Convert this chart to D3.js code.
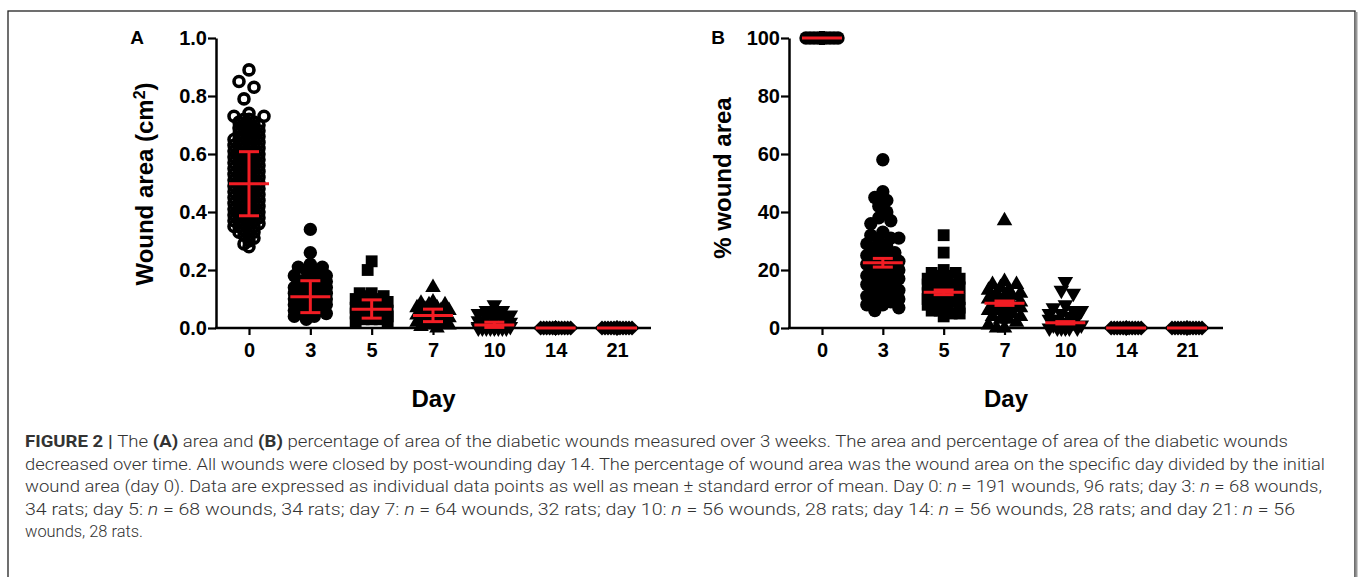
<!DOCTYPE html>
<html>
<head>
<meta charset="UTF-8">
<script src="https://d3js.org/d3.v7.min.js"></script>
<style>
  body { margin: 0; background: #fff; }
  svg text { font-family: "Liberation Sans", Arial, Helvetica, sans-serif; }
  .axis text { font-weight: bold; font-size: 20px; fill: #000; }
  .axis line, .axis path { stroke: #000; }
  .title { font-weight: bold; font-size: 24px; }
  .letter { font-weight: bold; font-size: 19px; }
  .caption { font-family: "Liberation Sans Narrow", "Roboto", "Liberation Sans", sans-serif; font-size: 17px; font-weight: 300; fill: #333; }
</style>
<title>Wound area</title>
</head>
<body>
<svg id="fig" width="1358" height="577"></svg>
<script>
// ---- data ----
const days = ["0", "3", "5", "7", "10", "14", "21"];
const areaTicks = [0.0, 0.2, 0.4, 0.6, 0.8, 1.0];
const pctTicks = [0, 20, 40, 60, 80, 100];
const areaKinds = ["open", "circle", "square", "triangle", "down", "diamond", "diamond"];
const pctKinds = ["circle", "circle", "square", "triangle", "down", "diamond", "diamond"];

// panel A, wound area (cm2)
const areaDay0 = [0.89, 0.85, 0.83, 0.79, 0.74, 0.73, 0.73, 0.72, 0.72, 0.71, 0.71, 0.70, 0.70, 0.70, 0.69,
  0.69, 0.68, 0.68, 0.68, 0.67, 0.67, 0.66, 0.66, 0.66, 0.65, 0.65, 0.65, 0.64, 0.64, 0.64, 0.63, 0.63, 0.63,
  0.62, 0.62, 0.62, 0.61, 0.61, 0.61, 0.60, 0.60, 0.60, 0.59, 0.59, 0.59, 0.58, 0.58, 0.58, 0.57, 0.57, 0.57,
  0.56, 0.56, 0.56, 0.55, 0.55, 0.55, 0.54, 0.54, 0.54, 0.53, 0.53, 0.53, 0.52, 0.52, 0.52, 0.51, 0.51, 0.51,
  0.50, 0.50, 0.50, 0.49, 0.49, 0.49, 0.48, 0.48, 0.48, 0.47, 0.47, 0.47, 0.46, 0.46, 0.46, 0.45, 0.45, 0.45,
  0.44, 0.44, 0.44, 0.43, 0.43, 0.43, 0.42, 0.42, 0.42, 0.41, 0.41, 0.41, 0.40, 0.40, 0.40, 0.39, 0.39, 0.39,
  0.38, 0.38, 0.38, 0.37, 0.37, 0.37, 0.36, 0.36, 0.36, 0.35, 0.35, 0.35, 0.34, 0.34, 0.33, 0.33, 0.32, 0.32,
  0.31, 0.30, 0.29, 0.28];
const areaDay3 = [0.34, 0.26, 0.22, 0.21, 0.21, 0.20, 0.19, 0.18, 0.18, 0.17, 0.17, 0.16, 0.16, 0.15, 0.15, 0.15,
  0.14, 0.14, 0.14, 0.13, 0.13, 0.13, 0.13, 0.12, 0.12, 0.12, 0.12, 0.11, 0.11, 0.11, 0.10, 0.10, 0.10, 0.10,
  0.09, 0.09, 0.09, 0.08, 0.08, 0.08, 0.07, 0.07, 0.07, 0.06, 0.06, 0.06, 0.05, 0.05, 0.04, 0.04, 0.03];
const areaDay5 = [0.23, 0.20, 0.12, 0.12, 0.11, 0.11, 0.10, 0.10, 0.10, 0.09, 0.09, 0.09, 0.08, 0.08, 0.08, 0.08,
  0.07, 0.07, 0.07, 0.07, 0.06, 0.06, 0.06, 0.06, 0.05, 0.05, 0.05, 0.05, 0.04, 0.04, 0.04, 0.04, 0.03, 0.03,
  0.03, 0.02, 0.02];
const areaDay7 = [0.14, 0.09, 0.085, 0.08, 0.08, 0.07, 0.07, 0.065, 0.06, 0.06, 0.06, 0.055, 0.05, 0.05, 0.05,
  0.045, 0.04, 0.04, 0.04, 0.035, 0.03, 0.03, 0.03, 0.025, 0.02, 0.02, 0.02, 0.015, 0.01, 0.01, 0.005, 0.0];
const areaDay10 = [0.08, 0.06, 0.06, 0.05, 0.05, 0.045, 0.04, 0.035, 0.03, 0.025, 0.02, 0.015, 0.01, 0.01,
  0.005, 0.005, 0, 0, 0, 0, 0, 0, 0, 0];
const areaDay14 = [0, 0, 0, 0, 0, 0, 0, 0, 0, 0, 0, 0, 0, 0, 0, 0];
const areaDay21 = [0, 0, 0, 0, 0, 0, 0, 0, 0, 0, 0, 0, 0, 0, 0, 0];
const areaMean = [0.497, 0.108, 0.065, 0.043, 0.010, 0, 0];
const areaLow  = [0.387, 0.053, 0.034, 0.022, 0.002, 0, 0];
const areaHigh = [0.608, 0.163, 0.097, 0.065, 0.020, 0, 0];

// panel B, % wound area
const pctDay0 = [100, 100, 100, 100, 100, 100, 100, 100, 100, 100, 100, 100, 100, 100, 100, 100, 100, 100,
  100, 100, 100, 100, 100, 100];
const pctDay3 = [58, 47, 45, 44, 42, 40, 38, 37, 36, 33, 32, 31, 31, 30, 29, 28, 27, 26, 25, 25, 24, 24, 23,
  23, 22, 22, 21, 21, 20, 20, 19, 18, 18, 17, 17, 16, 15, 15, 14, 13, 12, 12, 11, 11, 10, 10, 9, 8, 8, 7, 6];
const pctDay5 = [32, 26, 20, 19, 19, 18, 18, 17, 17, 16, 16, 15, 15, 14, 14, 13, 13, 12, 12, 12, 11, 11, 10,
  10, 9, 9, 8, 8, 7, 7, 6, 6, 5, 5, 4];
const pctDay7 = [37, 16, 15, 15, 14, 13, 13, 12, 12, 11, 11, 10, 10, 9, 9, 8, 8, 8, 7, 7, 6, 6, 5, 5, 4, 4, 3,
  3, 2, 1, 0, 0];
const pctDay10 = [16, 13, 12, 8, 7, 6, 6, 5, 5, 4, 4, 3, 3, 2, 2, 1, 1, 0, 0, 0, 0, 0, 0];
const pctDay14 = [0, 0, 0, 0, 0, 0, 0, 0, 0, 0, 0, 0, 0, 0, 0, 0];
const pctDay21 = [0, 0, 0, 0, 0, 0, 0, 0, 0, 0, 0, 0, 0, 0, 0, 0];
const pctMean = [100, 22.5, 12.3, 8.5, 1.8, 0, 0];
const pctLow  = [100, 21.0, 11.5, 7.8, 1.4, 0, 0];
const pctHigh = [100, 24.0, 13.1, 9.3, 2.2, 0, 0];

const captionLines = [
  [["FIGURE 2 | ", "b"], ["The ", ""], ["(A)", "b"], [" area and ", ""], ["(B)", "b"],
   [" percentage of area of the diabetic wounds measured over 3 weeks. The area and percentage of area of the diabetic wounds", ""]],
  [["decreased over time. All wounds were closed by post-wounding day 14. The percentage of wound area was the wound area on the specific day divided by the initial", ""]],
  [["wound area (day 0). Data are expressed as individual data points as well as mean \u00b1 standard error of mean. Day 0: ", ""],
   ["n", "i"], [" = 191 wounds, 96 rats; day 3: ", ""], ["n", "i"], [" = 68 wounds,", ""]],
  [["34 rats; day 5: ", ""], ["n", "i"], [" = 68 wounds, 34 rats; day 7: ", ""], ["n", "i"],
   [" = 64 wounds, 32 rats; day 10: ", ""], ["n", "i"], [" = 56 wounds, 28 rats; day 14: ", ""], ["n", "i"],
   [" = 56 wounds, 28 rats; and day 21: ", ""], ["n", "i"], [" = 56", ""]],
  [["wounds, 28 rats.", ""]]
];
const captionWidths = [1263, 1300, 1297, 1270, 118];

// ---- drawing ----
const svg = d3.select("#fig");

// frame around the figure
svg.append("rect").attr("x", 8).attr("y", 11).attr("width", 1347).attr("height", 620)
   .attr("fill", "none").attr("stroke", "#222").attr("stroke-width", 1.3);
svg.append("line").attr("x1", 1356.5).attr("x2", 1356.5).attr("y1", 12).attr("y2", 577)
   .attr("stroke", "#999").attr("stroke-width", 2);

// column scatter layout: spread points sideways so they do not pile up.
// first look for a spot with plenty of room (wide), then a tight one, else the least crowded.
function swarm(values, y, cx, sp) {
  const placed = [];
  const offsets = d3.range(sp.maxSteps * 2 + 1).map(k => (k % 2 ? -1 : 1) * Math.ceil(k / 2) * sp.step);
  values.slice().sort((a, b) => b - a).forEach(v => {
    const py = y(v);
    const room = offsets.map(off => d3.min(placed, p => Math.hypot(p.x - (cx + off), p.y - py)) ?? Infinity);
    let idx = room.findIndex(r => r >= (sp.wide || sp.minDist));
    if (idx < 0) idx = room.findIndex(r => r >= sp.minDist);
    if (idx < 0) idx = d3.maxIndex(room);
    placed.push({ v: v, x: cx + offsets[idx], y: py });
  });
  return placed;
}

const symbolFor = {
  open: { type: d3.symbolCircle, size: 78, rot: 0, spread: { step: 2.5, maxSteps: 6, minDist: 4.5, wide: 14 } },
  circle: { type: d3.symbolCircle, size: 140, rot: 0, spread: { step: 4, maxSteps: 4, minDist: 9 } },
  square: { type: d3.symbolSquare, size: 140, rot: 0, spread: { step: 4, maxSteps: 4, minDist: 9 } },
  triangle: { type: d3.symbolTriangle, size: 105, rot: 0, spread: { step: 4, maxSteps: 4, minDist: 9 } },
  down: { type: d3.symbolTriangle, size: 105, rot: 180, spread: { step: 4, maxSteps: 4, minDist: 9 } },
  diamond: { type: d3.symbolSquare, size: 115, rot: 45, spread: { step: 3, maxSteps: 5, minDist: 5 } }
};

function drawPanel(p) {
  const x = d3.scalePoint().domain(days).range(p.xRange);
  const y = d3.scaleLinear().domain(p.yDomain).range([328, 38]);
  const g = svg.append("g");

  // y axis
  const ya = g.append("g").attr("class", "axis")
     .attr("transform", "translate(" + p.axisX + ",0)")
     .call(d3.axisLeft(y).tickValues(p.ticks).tickFormat(p.fmt).tickSize(8).tickSizeOuter(0).tickPadding(1));
  ya.select(".domain").attr("stroke-width", 2.5);
  ya.selectAll(".tick line").attr("stroke-width", 2.2);

  // x axis (ticks only, the baseline is drawn separately)
  const xa = g.append("g").attr("class", "axis")
     .attr("transform", "translate(0,328)")
     .call(d3.axisBottom(x).tickSize(7).tickPadding(8));
  xa.select(".domain").remove();
  xa.selectAll(".tick line").attr("stroke-width", 2.2);
  g.append("line").attr("x1", p.axisX - 1).attr("x2", p.axisEnd).attr("y1", 328).attr("y2", 328)
   .attr("stroke", "#000").attr("stroke-width", 2.5);

  // points
  p.series.forEach((vals, i) => {
    const kind = p.kinds[i];
    const s = symbolFor[kind];
    const pts = swarm(vals, y, x(days[i]), s.spread);
    g.append("g").selectAll("path").data(pts).join("path")
      .attr("d", d3.symbol().type(s.type).size(s.size))
      .attr("transform", d => "translate(" + d.x + "," + d.y + ") rotate(" + s.rot + ")")
      .attr("fill", kind === "open" ? "none" : "#000")
      .attr("stroke", kind === "open" ? "#000" : "none")
      .attr("stroke-width", 3.6);
  });

  // mean and error bars
  const eb = g.append("g").attr("stroke", "#f21d24").attr("stroke-width", 3).attr("fill", "none");
  days.forEach((d, i) => {
    const cx = x(d);
    if (p.high[i] !== p.low[i]) {
      eb.append("line").attr("x1", cx).attr("x2", cx).attr("y1", y(p.low[i])).attr("y2", y(p.high[i]));
      [p.low[i], p.high[i]].forEach(v => {
        eb.append("line").attr("x1", cx - 10).attr("x2", cx + 10).attr("y1", y(v)).attr("y2", y(v));
      });
    }
    eb.append("line").attr("x1", cx - 20).attr("x2", cx + 20).attr("y1", y(p.mean[i])).attr("y2", y(p.mean[i]));
  });

  // titles
  g.append("text").attr("class", "title").attr("text-anchor", "middle")
   .attr("x", (p.axisX + p.axisEnd) / 2).attr("y", 407).text("Day");
  const yt = g.append("text").attr("class", "title").attr("text-anchor", "middle")
   .attr("font-size", p.titleSize + "px")
   .attr("transform", "translate(" + p.titleX + "," + p.titleY + ") rotate(-90)");
  p.yTitle(yt);
  g.append("text").attr("class", "letter").attr("text-anchor", "middle")
   .attr("x", p.letterX).attr("y", 44).text(p.letter);
}

drawPanel({
  letter: "A", letterX: 137,
  axisX: 216, axisEnd: 651, xRange: [249, 617],
  yDomain: [0, 1], ticks: areaTicks, fmt: d3.format(".1f"),
  series: [areaDay0, areaDay3, areaDay5, areaDay7, areaDay10, areaDay14, areaDay21],
  kinds: areaKinds,
  mean: areaMean, low: areaLow, high: areaHigh,
  titleX: 153, titleY: 184, titleSize: 24,
  yTitle: t => {
    t.append("tspan").text("Wound area (cm");
    t.append("tspan").attr("baseline-shift", "super").attr("font-size", "16px").text("2");
    t.append("tspan").text(")");
  }
});

drawPanel({
  letter: "B", letterX: 718,
  axisX: 789, axisEnd: 1223, xRange: [822, 1187],
  yDomain: [0, 100], ticks: pctTicks, fmt: d3.format("d"),
  series: [pctDay0, pctDay3, pctDay5, pctDay7, pctDay10, pctDay14, pctDay21],
  kinds: pctKinds,
  mean: pctMean, low: pctLow, high: pctHigh,
  titleX: 731, titleY: 178, titleSize: 27,
  yTitle: t => t.text("% wound area")
});

// caption
const cap = svg.append("g");
captionLines.forEach((segs, i) => {
  const t = cap.append("text").attr("class", "caption")
    .attr("x", 25).attr("y", 447 + i * 22.6)
    .attr("textLength", captionWidths[i]).attr("lengthAdjust", "spacingAndGlyphs");
  segs.forEach(s => {
    t.append("tspan").text(s[0])
     .attr("font-weight", s[1] === "b" ? "bold" : null)
     .attr("font-style", s[1] === "i" ? "italic" : null);
  });
});
</script>
</body>
</html>
